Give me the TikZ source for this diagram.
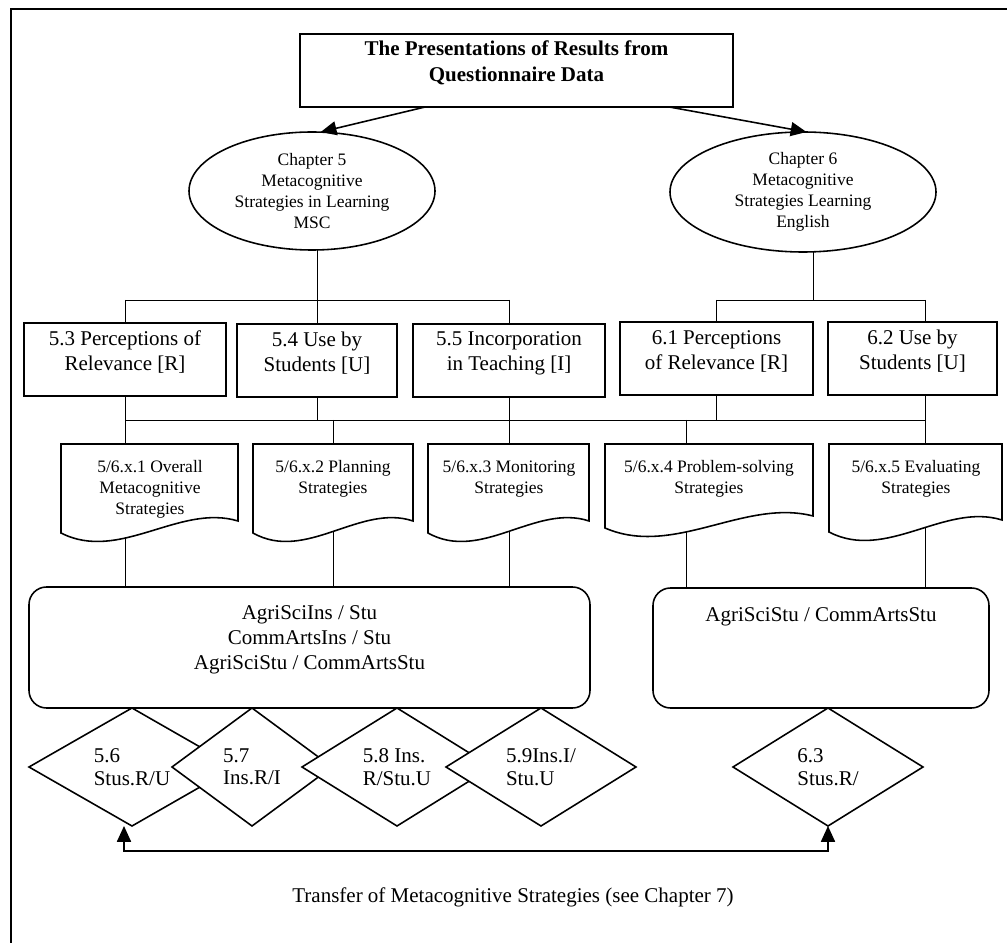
\documentclass[tikz,border=0pt]{standalone}
\usepackage{fontspec}
\setmainfont{Liberation Serif}
\usetikzlibrary{shapes.geometric,arrows.meta,fit,calc,backgrounds}

% one drawing unit in pt
\newcommand\pxu{0.5714pt}

% document symbol: flat top, wavy bottom, drawn round an empty fit node
\newcommand\docoutline[1]{%
  \path[docline] let \p1=(#1.south west), \p2=(#1.north east) in
    ({\x1},{\y2}) -- ({\x2},{\y2}) -- ({\x2},{\y1+6.86pt})
    .. controls ({\x1+0.67*(\x2-\x1)},{\y1+17pt}) and ({\x1+0.33*(\x2-\x1)},{\y1-17pt}) .. ({\x1},{\y1}) -- cycle;}

\begin{document}
\begin{tikzpicture}[x=0.5714pt, y=-0.5714pt, line width=0.9pt,
  every node/.style={inner sep=0pt, outer sep=0pt},
  fbig/.style={font=\fontsize{12}{14.3}\selectfont},
  fsmall/.style={font=\fontsize{10}{12}\selectfont},
  titlebox/.style={draw, fill=white, align=center, font=\bfseries\fontsize{12}{15}\selectfont},
  chapter/.style={ellipse, draw, fill=white, align=center, fsmall},
  topicbox/.style={draw, fill=white, align=center, fbig},
  docline/.style={draw, fill=white},
  doctext/.style={align=center, fsmall},
  group/.style={draw, fill=white, rounded corners=10pt},
  grouptext/.style={align=center, fbig},
  strat/.style={diamond, draw, fill=white, align=left,
    font=\fontsize{12}{12.8}\selectfont, minimum height=118*\pxu},
  tip/.style={-{Triangle[length=9pt,width=8pt]}},
  twotips/.style={{Triangle[length=9pt,width=8pt]}-{Triangle[length=9pt,width=8pt]}},
]
\useasboundingbox (0,0) rectangle (1007,943);

% frame
\draw[line width=1.5pt] (1007,9) -- (11,9) -- (11,943);

% title and chapters
\node[titlebox, fit={(300,34)(733,107)}] (title)
  {The Presentations of Results from\\Questionnaire Data};
\node[chapter, minimum width=246*\pxu, minimum height=118*\pxu] (ch5) at (312,191)
  {Chapter 5\\Metacognitive\\Strategies in Learning\\MSC};
\node[chapter, minimum width=266*\pxu, minimum height=120*\pxu] (ch6) at (803,192)
  {Chapter 6\\Metacognitive\\Strategies Learning\\English};

\draw[tip] ($(title.south west)!0.289!(title.south east)$) -- ([xshift=5pt]ch5.north);
\draw[tip] ($(title.south west)!0.853!(title.south east)$) -- ([xshift=2pt]ch6.north);

% section boxes
\node[topicbox, line width=1.4pt, fit={(24,323)(226,396)}] (b53) {5.3 Perceptions of\\Relevance [R]};
\node[topicbox, fit={(237,324)(397,397)}] (b54) {5.4 Use by\\Students [U]};
\node[topicbox, fit={(413,324)(605,397)}] (b55) {5.5 Incorporation\\in Teaching [I]};
\node[topicbox, fit={(620,322)(813,395)}] (b61) {6.1 Perceptions\\of Relevance [R]};
\node[topicbox, fit={(828,322)(997,395)}] (b62) {6.2 Use by\\Students [U]};

% strategy documents
\node[fit={(61,444)(238,533)}] (doc1) {};
\node[fit={(253,444)(413,533)}] (doc2) {};
\node[fit={(428,444)(589,533)}] (doc3) {};
\node[fit={(605,444)(813,528)}] (doc4) {};
\node[fit={(829,444)(1002,532)}] (doc5) {};
\docoutline{doc1}\docoutline{doc2}\docoutline{doc3}\docoutline{doc4}\docoutline{doc5}
\node[doctext] (doc1t) at (150,489) {5/6.x.1 Overall\\Metacognitive\\Strategies};
\node[doctext] (doc2t) at (333,479) {5/6.x.2 Planning\\Strategies};
\node[doctext] (doc3t) at (509,479) {5/6.x.3 Monitoring\\Strategies};
\node[doctext] (doc4t) at (709,479) {5/6.x.4 Problem-solving\\Strategies};
\node[doctext] (doc5t) at (916,479) {5/6.x.5 Evaluating\\Strategies};

% participant groups
\node[group, fit={(29,587)(590,708)}] (rL) {};
\node[grouptext] (rLt) at (309.5,640) {AgriSciIns / Stu\\CommArtsIns / Stu\\AgriSciStu / CommArtsStu};
\node[group, fit={(653,588)(989,708)}] (rR) {};
\node[grouptext] (rRt) at (821,617) {AgriSciStu / CommArtsStu};

% result diamonds, each one laid over the one before
\node[strat, minimum width=206*\pxu] (s56) at (132,767) {5.6\\Stus.R/U};
\node[strat, minimum width=160*\pxu] (s57) at (252,767) {5.7\\Ins.R/I};
\node[strat, minimum width=190*\pxu] (s58) at (397,767) {5.8 Ins.\\R/Stu.U};
\node[strat, minimum width=190*\pxu] (s59) at (541,767) {5.9Ins.I/\\Stu.U};
\node[strat, minimum width=190*\pxu] (s63) at (828,767) {6.3\\Stus.R/};

% transfer link
\coordinate (a1) at (124,851);
\coordinate (a2) at (828,851);
\draw[twotips] (a1 |- s56.south) -- (a1) -- (a2) -- (a2 |- s63.south);
\node[fbig] (transfer) at (513,897) {Transfer of Metacognitive Strategies (see Chapter 7)};

% tree connectors, kept under the shapes
\coordinate (bus1) at (0,300);
\coordinate (bus2) at (0,420);
\coordinate (c6) at (813,0);
\coordinate (c62) at (925,0);
\coordinate (c64) at (686,0);
\begin{scope}[on background layer]
  \draw (b54.north |- ch5.center) -- (b54.north);
  \draw (b54.south) -- (b54.south |- bus2);
  \draw (b53.north |- bus1) -- (b55.north |- bus1);
  \draw (b53.north |- bus1) -- (b53.north |- rL.north);
  \draw (b55.north |- bus1) -- (b55.north |- rL.north);
  \draw (doc2.north |- bus2) -- (doc2.north |- rL.north);
  \draw (b53.south |- bus2) -- (c62 |- bus2);
  \draw (c6 |- ch6.center) -- (c6 |- bus1);
  \draw (b61.north |- bus1) -- (c62 |- bus1);
  \draw (b61.north |- bus1) -- (b61.south |- bus2);
  \draw (c62 |- bus1) -- (c62 |- rR.north);
  \draw (c64 |- bus2) -- (c64 |- rR.north);
\end{scope}
\end{tikzpicture}
\end{document}
